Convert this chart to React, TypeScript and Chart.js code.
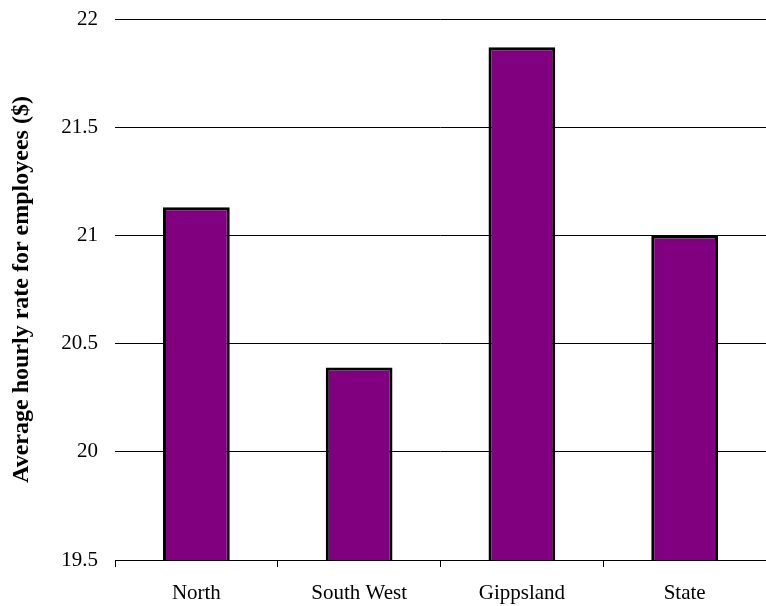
import React, { useEffect, useRef } from "react";
import { Chart, registerables } from "chart.js";

Chart.register(...registerables);

const categories = ["North", "South West", "Gippsland", "State"];
const hourlyRates = [21.13, 20.39, 21.87, 21.0];
const yMin = 19.5;
const yMax = 22;
const yStep = 0.5;
const yTitle = "Average hourly rate for employees ($)";

export default function App() {
  const ref = useRef<HTMLCanvasElement | null>(null);

  useEffect(() => {
    const canvas = ref.current;
    if (!canvas) return;
    const chart = new Chart(canvas, {
      type: "bar",
      data: {
        labels: categories,
        datasets: [
          {
            data: hourlyRates,
            backgroundColor: "#800080",
            borderColor: "#000000",
            borderWidth: 3,
            borderSkipped: false,
            barPercentage: 0.41,
            categoryPercentage: 1,
          },
        ],
      },
      options: {
        responsive: false,
        animation: false,
        devicePixelRatio: 1,
        layout: { padding: { top: 19, right: 0, bottom: 0, left: 0 } },
        plugins: {
          legend: { display: false },
          tooltip: { enabled: false },
        },
        scales: {
          x: {
            grid: {
              offset: true,
              drawOnChartArea: false,
              drawTicks: true,
              tickLength: 7,
              color: "#000000",
              lineWidth: 1,
            },
            border: { display: false },
            ticks: {
              color: "#000000",
              padding: 14,
              font: { family: "'Liberation Serif', 'Times New Roman', serif", size: 21 },
              maxRotation: 0,
            },
            afterFit: (scale: any) => {
              scale.height = 46;
            },
          },
          y: {
            min: yMin,
            max: yMax,
            grid: {
              drawTicks: true,
              tickLength: 17,
              tickColor: "rgba(0,0,0,0)",
              color: "#000000",
              lineWidth: 1,
            },
            border: { display: false },
            ticks: {
              stepSize: yStep,
              color: "#000000",
              padding: 0,
              font: { family: "'Liberation Serif', 'Times New Roman', serif", size: 21 },
              callback: (v: any) => String(Number(v)),
            },
            title: {
              display: true,
              text: yTitle,
              color: "#000000",
              padding: { top: 7, bottom: 0 },
              font: {
                family: "'Liberation Serif', 'Times New Roman', serif",
                size: 24,
                weight: "bold",
              },
            },
            afterFit: (scale: any) => {
              scale.width = 115;
            },
          },
        },
      },
    });
    return () => chart.destroy();
  }, []);

  return (
    <div style={{ position: "absolute", left: 0, top: 0, width: 766, height: 606, background: "#ffffff" }}>
      <canvas ref={ref} width={766} height={606} style={{ display: "block", width: 766, height: 606 }} />
    </div>
  );
}
